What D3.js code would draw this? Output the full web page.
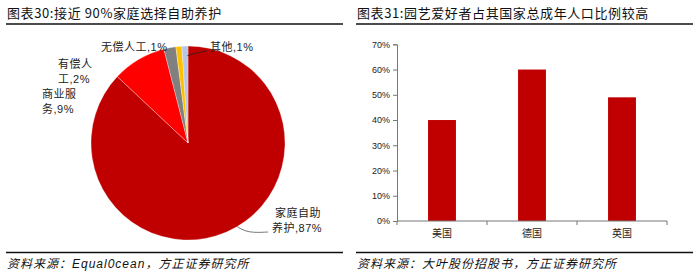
<!DOCTYPE html>
<html>
<head>
<meta charset="utf-8">
<script src="https://cdn.jsdelivr.net/npm/d3@7"></script>
<style>
  body { margin: 0; background: #fff; }
  svg { display: block; }
  text { font-family: "Liberation Sans", Arial, "Noto Sans CJK SC", sans-serif; fill: #222; }
  .title { font-size: 13px; font-family: "Noto Sans CJK SC", sans-serif; fill: #111; letter-spacing: 0.6px; }
  .source { font-size: 12px; font-style: italic; letter-spacing: 1px; fill: #111; }
  .plab { font-size: 11px; letter-spacing: 0.5px; }
</style>
</head>
<body>
<svg id="vis" width="700" height="277"></svg>
<script>
// left: pie data
var pieNames = ['家庭自助养护', '商业服务', '有偿人工', '无偿人工', '其他'];
var pieValues = [87, 9, 2, 1, 1];
var pieColors = ['#C00000', '#FF0000', '#808080', '#FFC000', '#B4C7E7'];

// right: bar data
var countries = ['美国', '德国', '英国'];
var shares = [40, 60, 49];
var yTicks = [0, 10, 20, 30, 40, 50, 60, 70];

var svg = d3.select('#vis');

// frame: titles, rules, sources
var panels = [
  {x0: 6, x1: 343, title: '图表30:接近 90%家庭选择自助养护', source: '资料来源：Equal0cean，方正证券研究所'},
  {x0: 356, x1: 693, title: '图表31:园艺爱好者占其国家总成年人口比例较高', source: '资料来源：大叶股份招股书，方正证券研究所'}
];
panels.forEach(function (p) {
  svg.append('text').attr('class', 'title').attr('x', p.x0 + 1).attr('y', 18).text(p.title);
  svg.append('line').attr('x1', p.x0).attr('x2', p.x1).attr('y1', 24).attr('y2', 24)
    .attr('stroke', '#111').attr('stroke-width', 1.3);
  svg.append('line').attr('x1', p.x0).attr('x2', p.x1).attr('y1', 252.5).attr('y2', 252.5)
    .attr('stroke', '#111').attr('stroke-width', 1.3);
  svg.append('text').attr('class', 'source').attr('x', p.x0 + 1).attr('y', 268).text(p.source);
});

// ---- pie ----
var cx = 188, cy = 143, r = 97;
var pieData = pieNames.map(function (n, i) { return {name: n, value: pieValues[i], color: pieColors[i]}; });
var arcs = d3.pie().sort(null).value(function (d) { return d.value; })(pieData);
var arc = d3.arc().innerRadius(0).outerRadius(r);

var pieG = svg.append('g').attr('transform', 'translate(' + cx + ',' + cy + ')');
pieG.selectAll('path').data(arcs).enter().append('path')
  .attr('d', arc)
  .attr('fill', function (d) { return d.data.color; })
  .attr('stroke', '#fff').attr('stroke-width', 0.3);

// labels placed around the pie, offsets relative to the centre
var pieLabels = [
  {lines: ['家庭自助', '养护,87%'], dx: [87, 84], dy: [74, 89]},
  {lines: ['商业服', '务,9%'], dx: [-146, -146], dy: [-45, -30]},
  {lines: ['有偿人', '工,2%'], dx: [-130, -130], dy: [-75, -60]},
  {lines: ['无偿人工,1%'], dx: [-87], dy: [-92]},
  {lines: ['其他,1%'], dx: [22], dy: [-92]}
];
pieLabels.forEach(function (l) {
  l.lines.forEach(function (t, j) {
    pieG.append('text').attr('class', 'plab').attr('x', l.dx[j]).attr('y', l.dy[j]).text(t);
  });
});

// leader lines
var lead = d3.line().curve(d3.curveBasis);
var otherA = (arcs[4].startAngle + arcs[4].endAngle) / 2;
pieG.append('path')
  .attr('d', lead([[Math.sin(2.61) * r, -Math.cos(2.61) * r], [60, 90], [80, 89]]))
  .attr('fill', 'none').attr('stroke', '#777').attr('stroke-width', 1);
pieG.append('path')
  .attr('d', lead([[Math.sin(otherA) * r * 0.9 + 2, -Math.cos(otherA) * r * 0.9], [8, -90], [19, -92]]))
  .attr('fill', 'none').attr('stroke', '#222').attr('stroke-width', 0.8);

// ---- bars ----
var x = d3.scaleBand().domain(countries).range([397, 667]).paddingInner(0.69).paddingOuter(0.345);
var y = d3.scaleLinear().domain([0, 70]).range([221, 44.3]);

svg.append('g').selectAll('rect').data(countries).enter().append('rect')
  .attr('x', function (d) { return x(d); })
  .attr('width', x.bandwidth())
  .attr('y', function (d, i) { return y(shares[i]); })
  .attr('height', function (d, i) { return y(0) - y(shares[i]); })
  .attr('fill', '#C00000');

var yAxis = svg.append('g').attr('transform', 'translate(397,0)')
  .call(d3.axisLeft(y).tickValues(yTicks).tickSize(4).tickFormat(function (d) { return d + '%'; }));
yAxis.selectAll('line, path').attr('stroke', '#777');
yAxis.selectAll('text').attr('font-size', 9).attr('fill', '#333')
  .attr('font-family', '"Liberation Sans", Arial, sans-serif');

// x axis with ticks at band edges
var xAxis = svg.append('g').attr('transform', 'translate(0,221)');
xAxis.append('line').attr('x1', 397).attr('x2', 667).attr('stroke', '#777');
var edges = countries.map(function (d) { return x(d) - x.step() * x.paddingInner() / 2; });
edges.push(667);
xAxis.selectAll('.edge').data(edges).enter().append('line')
  .attr('x1', function (d) { return d; }).attr('x2', function (d) { return d; })
  .attr('y1', 0).attr('y2', 4).attr('stroke', '#777');
xAxis.selectAll('.cat').data(countries).enter().append('text')
  .attr('x', function (d) { return x(d) + x.bandwidth() / 2; })
  .attr('y', 16).attr('text-anchor', 'middle')
  .attr('font-size', 10).attr('fill', '#222')
  .attr('font-family', '"Noto Sans CJK SC", sans-serif')
  .text(function (d) { return d; });
</script>
</body>
</html>
